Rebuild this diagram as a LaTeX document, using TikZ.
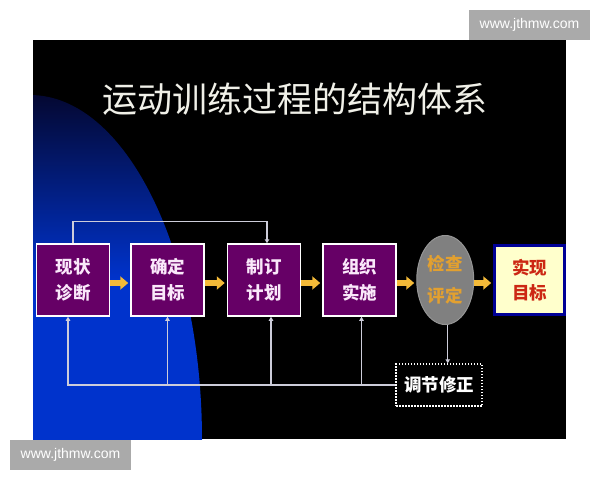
\documentclass[tikz,border=0pt]{standalone}
\usepackage{fontspec}
\newfontfamily\cjk{Noto Sans CJK SC}
\setsansfont{Liberation Sans}
\usetikzlibrary{positioning,arrows.meta,shapes.geometric}
\definecolor{deepblue}{RGB}{0,51,204}
\definecolor{navy}{RGB}{4,8,50}
\definecolor{plum}{RGB}{102,0,102}
\definecolor{petal}{RGB}{250,232,250}
\definecolor{gold}{RGB}{244,186,56}
\definecolor{cream}{RGB}{255,255,204}
\definecolor{ink}{RGB}{0,0,150}
\definecolor{wire}{RGB}{205,205,218}
\definecolor{stamp}{RGB}{170,170,170}
\definecolor{amber}{RGB}{226,160,48}
\definecolor{brick}{RGB}{204,40,20}
\definecolor{chalk}{RGB}{240,240,232}
\begin{document}
\begin{tikzpicture}[x=1pt,y=-1pt,
	stage/.style={draw=white,line width=1.5pt,fill=plum,minimum width=73pt,minimum height=72pt,inner sep=0pt,align=center,text=petal,font=\cjk\bfseries\fontsize{17.5}{26}\selectfont},
	feed/.style={draw=wire,line width=1.3pt,-{Triangle[length=4pt,width=4.5pt]}},
	push/.style={draw=gold,line width=6pt,shorten >=2pt,-{Triangle[length=8pt,width=13pt]}},
	stamp/.style={fill=stamp,text=white,minimum width=121pt,minimum height=30pt,inner sep=0pt,font=\sffamily\fontsize{14}{14}\selectfont}]
	\useasboundingbox (0,0) rectangle (600,480);
	\fill[white] (0,0) rectangle (600,480);
	\fill[black] (33,40) rectangle (566,439);
	
	% blue arc on the left
	\begin{scope}
		\clip (33,40) rectangle (566,439);
		\clip (30,440) ellipse [x radius=172pt,y radius=345pt];
		\shade[top color=navy,bottom color=deepblue] (33,95) rectangle (210,280);
		\fill[deepblue] (33,280) rectangle (210,440);
	\end{scope}
	
	\node[text=chalk,font=\cjk\fontsize{35}{35}\selectfont] (head) at (295,99) {运动训练过程的结构体系};
	
	\node[stage] (diag) at (73,280) {现状\\诊断};
	\node[stage,right=20pt of diag] (goal) {确定\\目标};
	\node[stage,right=22pt of goal] (plan) {制订\\计划};
	\node[stage,right=21pt of plan] (act) {组织\\实施};
	\node[ellipse,draw={rgb,255:red,150;green,150;blue,150},line width=1pt,fill={rgb,255:red,128;green,128;blue,128},minimum width=57pt,minimum height=89pt,inner sep=0pt,align=center,text=amber,font=\cjk\bfseries\fontsize{17.5}{32}\selectfont,right=19.5pt of act] (check) {检查\\评定};
	\node[draw=ink,line width=2.5pt,fill=cream,minimum width=70pt,minimum height=69pt,inner sep=0pt,align=center,text=brick,font=\cjk\bfseries\fontsize{17.5}{25}\selectfont,right=19pt of check] (aim) {实现\\目标};
	\node[draw=white,line width=1.5pt,dash pattern=on 1.5pt off 1.5pt,minimum width=86pt,minimum height=42pt,inner sep=0pt,text=white,font=\cjk\bfseries\fontsize{17.5}{17.5}\selectfont] (fix) at (439,385) {调节修正};
	
	\foreach \a/\b in {diag/goal,goal/plan,plan/act,act/check,check/aim}
		\draw[push] ([yshift=-3pt]\a.east) -- ([yshift=-3pt]\b.west);
	
	\draw[feed] (diag.north) -- ++(0,-22) -| ([xshift=3pt]plan.north);
	\draw[feed] ([xshift=2.5pt]check.south) -- ([xshift=2.5pt]check.south |- fix.north);
	\draw[feed] (fix.west) -| ([xshift=-5pt]diag.south);
	\draw[feed] (goal.south |- fix.west) -- (goal.south);
	\draw[feed] ([xshift=7pt]plan.south |- fix.west) -- ([xshift=7pt]plan.south);
	\draw[feed] ([xshift=2pt]act.south |- fix.west) -- ([xshift=2pt]act.south);
	
	\node[stamp] (mark1) at (529.5,25) {www.jthmw.com};
	\node[stamp] (mark2) at (70.5,455) {www.jthmw.com};
\end{tikzpicture}
\end{document}
